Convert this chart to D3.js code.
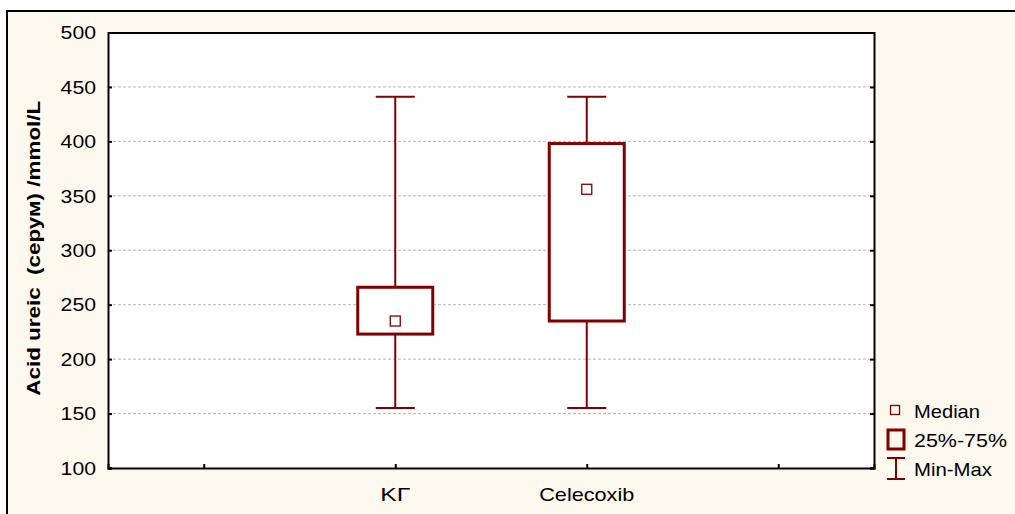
<!DOCTYPE html>
<html><head><meta charset="utf-8">
<script src="https://cdn.jsdelivr.net/npm/d3@7"></script>
<style>body{margin:0;background:#fff;}svg{display:block;font-family:"Liberation Sans",Arial,sans-serif;}</style>
</head><body>
<script>
const categories = ["KГ", "Celecoxib"];
const catPositions = [2, 3];
const mins = [155, 155];
const q1s = [223, 235];
const medians = [235, 356];
const q3s = [266, 398];
const maxs = [441, 441];
const yTicks = [100, 150, 200, 250, 300, 350, 400, 450, 500];
const xTicks = [1, 2, 3, 4];
const legendLabels = ["Median", "25%-75%", "Min-Max"];

const W = 1015, H = 514;
const color = "#800000";
const svg = d3.select("body").append("svg").attr("width", W).attr("height", H);

// outer panel
svg.append("rect").attr("x", 7).attr("y", 11).attr("width", W + 10).attr("height", H + 10)
  .attr("fill", "#FEF9EE").attr("stroke", "#000").attr("stroke-width", 2);

const L = 108, R = 874, T = 32.5, B = 468;
const x = d3.scaleLinear().domain([0.5, 4.5]).range([L, R]);
const y = d3.scaleLinear().domain([100, 500]).range([B, T]);

svg.append("rect").attr("x", L).attr("y", T).attr("width", R - L).attr("height", B - T).attr("fill", "#fff");

// grid
svg.append("g").selectAll("line").data(yTicks.filter(d => d > 100 && d < 500)).join("line")
  .attr("x1", L).attr("x2", R).attr("y1", d => y(d)).attr("y2", d => y(d))
  .attr("stroke", "#b8b8b8").attr("stroke-width", 1).attr("stroke-dasharray", "3,2");

// axes
const yAxisL = svg.append("g").attr("transform", `translate(${L},0)`)
  .call(d3.axisLeft(y).tickValues(yTicks).tickSize(-4).tickPadding(12));
const yAxisR = svg.append("g").attr("transform", `translate(${R},0)`)
  .call(d3.axisRight(y).tickValues(yTicks).tickSize(-4).tickFormat(""));
const xAxisB = svg.append("g").attr("transform", `translate(0,${B})`)
  .call(d3.axisBottom(x).tickValues(xTicks).tickSize(-4).tickFormat(""));
const xAxisT = svg.append("g").attr("transform", `translate(0,${T})`)
  .call(d3.axisTop(x).tickValues([]).tickSize(0).tickFormat(""));
[yAxisL, yAxisR, xAxisB, xAxisT].forEach(g => {
  g.select(".domain").attr("stroke", "#000").attr("stroke-width", 2);
  g.selectAll(".tick line").attr("stroke", "#000").attr("stroke-width", 2);
});
const sx = 1.18;
yAxisL.selectAll(".tick text").attr("font-size", 18).attr("fill", "#000")
  .attr("font-family", "Liberation Sans, Arial, sans-serif")
  .attr("transform", `scale(${sx},1)`).attr("x", -12 / sx).attr("dy", "0.35em");

// x category labels
const xLabelLen = [30, 95];
svg.append("g").selectAll("text").data(categories).join("text")
  .attr("x", (d, i) => x(catPositions[i])).attr("y", 501)
  .attr("text-anchor", "middle").attr("font-size", 19).attr("fill", "#000")
  .attr("textLength", (d, i) => xLabelLen[i]).attr("lengthAdjust", "spacingAndGlyphs")
  .text(d => d);

// y label
svg.append("text").attr("transform", `translate(39.5,${(T + B) / 2 - 2}) rotate(-90)`)
  .attr("text-anchor", "middle").attr("font-size", 19).attr("font-weight", "bold")
  .attr("fill", "#000").style("white-space", "pre")
  .attr("textLength", 295).attr("lengthAdjust", "spacingAndGlyphs")
  .text("Acid ureic  (серум) /mmol/L");

// boxes
const boxHalf = 37.5, capHalf = 19.5;
const g = svg.append("g");
categories.forEach((c, i) => {
  const cx = x(catPositions[i]);
  g.append("line").attr("x1", cx).attr("x2", cx).attr("y1", y(maxs[i])).attr("y2", y(q3s[i]))
    .attr("stroke", color).attr("stroke-width", 2);
  g.append("line").attr("x1", cx).attr("x2", cx).attr("y1", y(q1s[i])).attr("y2", y(mins[i]))
    .attr("stroke", color).attr("stroke-width", 2);
  g.append("line").attr("x1", cx - capHalf).attr("x2", cx + capHalf).attr("y1", y(maxs[i])).attr("y2", y(maxs[i]))
    .attr("stroke", color).attr("stroke-width", 2);
  g.append("line").attr("x1", cx - capHalf).attr("x2", cx + capHalf).attr("y1", y(mins[i])).attr("y2", y(mins[i]))
    .attr("stroke", color).attr("stroke-width", 2);
  g.append("rect").attr("x", cx - boxHalf).attr("y", y(q3s[i])).attr("width", 2 * boxHalf)
    .attr("height", y(q1s[i]) - y(q3s[i])).attr("fill", "#fff").attr("stroke", color).attr("stroke-width", 3);
  g.append("rect").attr("x", cx - 5).attr("y", y(medians[i]) - 5).attr("width", 10).attr("height", 10)
    .attr("fill", "#fff").attr("stroke", color).attr("stroke-width", 1.3);
});

// legend
const lg = svg.append("g");
lg.append("rect").attr("x", 890.5).attr("y", 405.5).attr("width", 9).attr("height", 9)
  .attr("fill", "none").attr("stroke", color).attr("stroke-width", 1.3);
lg.append("rect").attr("x", 888).attr("y", 430).attr("width", 16).attr("height", 19)
  .attr("fill", "none").attr("stroke", color).attr("stroke-width", 3);
lg.append("line").attr("x1", 896).attr("x2", 896).attr("y1", 458).attr("y2", 479).attr("stroke", color).attr("stroke-width", 2);
lg.append("line").attr("x1", 887).attr("x2", 905).attr("y1", 458).attr("y2", 458).attr("stroke", color).attr("stroke-width", 2);
lg.append("line").attr("x1", 887).attr("x2", 905).attr("y1", 479).attr("y2", 479).attr("stroke", color).attr("stroke-width", 2);
const legendLen = [66, 93, 78];
lg.selectAll("text").data(legendLabels).join("text")
  .attr("x", 914).attr("y", (d, i) => [418, 447, 476][i])
  .attr("font-size", 19).attr("fill", "#000")
  .attr("textLength", (d, i) => legendLen[i]).attr("lengthAdjust", "spacingAndGlyphs")
  .text(d => d);
</script>
</body></html>
